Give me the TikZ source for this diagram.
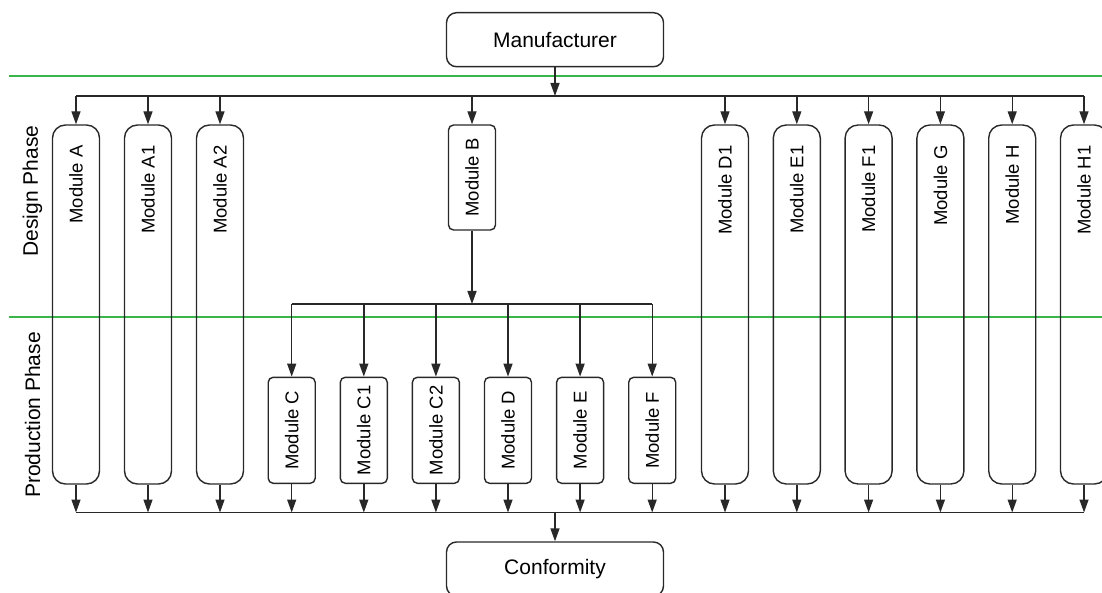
\documentclass[tikz,border=0pt]{standalone}
\usepackage{fontspec}
\setmainfont{Liberation Sans}
\usetikzlibrary{arrows.meta,calc}
\definecolor{phasegreen}{RGB}{57,181,74}
\definecolor{ink}{RGB}{40,40,40}
\begin{document}
\begin{tikzpicture}[x=1pt,y=-1pt,
  line/.style={draw=ink,line width=1.4pt},
  arr/.style={line,-{Triangle[length=13pt,width=9pt]}},
  endbox/.style={line,rounded corners=10pt,minimum width=217pt,minimum height=54pt,
    inner sep=0pt,font=\fontsize{21}{25}\selectfont},
  tallmod/.style={line,rounded corners=13pt,minimum width=47pt,minimum height=359pt,inner sep=0pt},
  shortmod/.style={line,rounded corners=5pt,minimum width=47pt,minimum height=106pt,inner sep=0pt},
  modlabel/.style={rotate=90,inner sep=0pt,font=\fontsize{18.5}{22}\selectfont},
  phase/.style={rotate=90,inner sep=0pt,font=\fontsize{21}{25}\selectfont},
  divider/.style={draw=phasegreen,line width=2.2pt}]
\useasboundingbox (0,0) rectangle (1102,593);

% phase dividers and phase titles
\draw[divider] (9,76) -- (1102,76);
\draw[divider] (9,317) -- (1102,317);
\node[phase] (design) at (32.5,191) {Design Phase};
\node[phase] (production) at (32.5,415) {Production Phase};

% start and end of the procedure
\node[endbox] (man) at (555,39.7) {Manufacturer};
\node[endbox] (conf) at (555,569) {Conformity};

% bus rails
\coordinate (topbus) at (555,96);
\coordinate (midbus) at (472,304);
\coordinate (botbus) at (555,512.5);

% full-height modules, label near the top
\foreach \nm/\lab/\x in {mA/Module A/76, mAa/Module A1/148, mAb/Module A2/220,
    mDa/Module D1/725, mEa/Module E1/796.8, mFa/Module F1/868.6,
    mG/Module G/940.4, mH/Module H/1012.2, mHa/Module H1/1084}{
  \node[tallmod] (\nm) at (\x,304.5) {};
  \node[modlabel,anchor=east] (\nm-t) at ($(\nm.north)+(0,21)$) {\lab};
}

% module B and the production-only modules, label centred
\node[shortmod,minimum height=105pt] (mB) at (472,177.5) {};
\node[modlabel] (mB-t) at (mB.center) {Module B};
\foreach \nm/\lab/\x in {mC/Module C/291.7, mCa/Module C1/363.8, mCb/Module C2/435.9,
    mD/Module D/508, mE/Module E/580.1, mF/Module F/652.2}{
  \node[shortmod] (\nm) at (\x,430.3) {};
  \node[modlabel] (\nm-t) at (\nm.center) {\lab};
}

% manufacturer to design-phase modules
\draw[arr] (man.south) -- (topbus);
\draw[line] (mA.north |- topbus) -- (mHa.north |- topbus);
\foreach \nm in {mA,mAa,mAb,mB,mDa,mEa,mFa,mG,mH,mHa}
  \draw[arr] (\nm.north |- topbus) -- (\nm.north);

% module B to production modules
\draw[arr] (mB.south) -- (midbus);
\draw[line] (mC.north |- midbus) -- (mF.north |- midbus);
\foreach \nm in {mC,mCa,mCb,mD,mE,mF}
  \draw[arr] (\nm.north |- midbus) -- (\nm.north);

% all modules to conformity
\foreach \nm in {mA,mAa,mAb,mC,mCa,mCb,mD,mE,mF,mDa,mEa,mFa,mG,mH,mHa}
  \draw[arr] (\nm.south) -- (\nm.south |- botbus);
\draw[line] (mA.south |- botbus) -- (mHa.south |- botbus);
\draw[arr] (botbus) -- (conf.north);
\end{tikzpicture}
\end{document}
